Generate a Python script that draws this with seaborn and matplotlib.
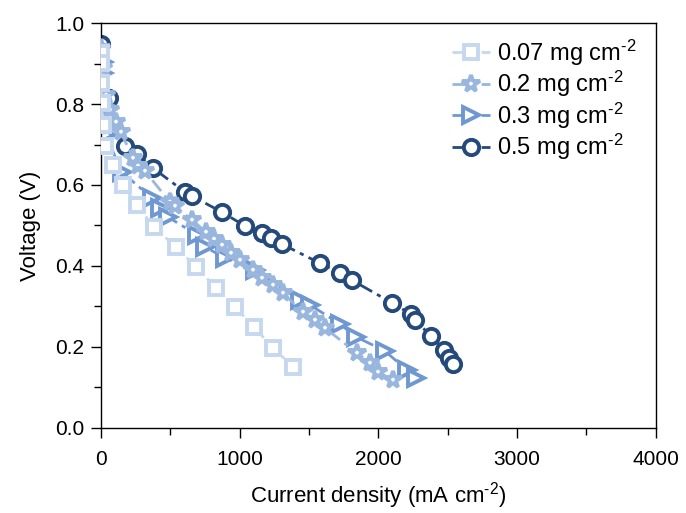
import matplotlib
matplotlib.use("Agg")
import matplotlib.pyplot as plt
import seaborn as sns
import numpy as np
import pandas as pd
from matplotlib.ticker import MultipleLocator

# ---- data (current density mA cm-2, voltage V) ----
j_007 = [0, 0, 0, 7, 14, 29, 86, 159, 259, 382, 541, 685, 829, 966, 1103, 1240, 1384]
v_007 = [0.926, 0.901, 0.852, 0.802, 0.748, 0.696, 0.649, 0.600, 0.551, 0.496, 0.447,
         0.398, 0.346, 0.299, 0.249, 0.198, 0.151]

j_02 = [0, 14, 36, 65, 108, 144, 231, 267, 317, 497, 533, 656, 757, 814, 872, 937,
        1002, 1095, 1160, 1240, 1312, 1456, 1542, 1614, 1845, 1939, 1996, 2104]
v_02 = [0.938, 0.889, 0.822, 0.785, 0.756, 0.731, 0.667, 0.647, 0.635, 0.558, 0.548,
        0.514, 0.484, 0.467, 0.452, 0.432, 0.415, 0.390, 0.370, 0.353, 0.333, 0.286,
        0.267, 0.247, 0.185, 0.160, 0.138, 0.119]

j_03 = [14, 14, 22, 36, 151, 368, 425, 483, 692, 750, 894, 1110, 1434, 1506, 1722,
        1838, 2047, 2205, 2270]
v_03 = [0.904, 0.877, 0.798, 0.723, 0.632, 0.568, 0.543, 0.521, 0.477, 0.447, 0.420,
        0.390, 0.316, 0.304, 0.257, 0.225, 0.190, 0.143, 0.123]

j_05 = [0, 58, 173, 259, 375, 605, 656, 872, 1038, 1160, 1225, 1305, 1578, 1722,
        1809, 2097, 2234, 2263, 2378, 2472, 2508, 2537]
v_05 = [0.948, 0.815, 0.696, 0.677, 0.642, 0.583, 0.573, 0.533, 0.499, 0.481, 0.469,
        0.454, 0.407, 0.383, 0.365, 0.309, 0.281, 0.267, 0.227, 0.193, 0.173, 0.158]

SUP = r"$^{\text{-}2}$"
labels = ["0.07 mg cm" + SUP, "0.2 mg cm" + SUP, "0.3 mg cm" + SUP, "0.5 mg cm" + SUP]
x_ticks = [0, 1000, 2000, 3000, 4000]
y_ticks = [0.0, 0.2, 0.4, 0.6, 0.8, 1.0]

# ---- style ----
sns.set_theme(style="white")
plt.rcParams["font.family"] = ["Liberation Sans", "DejaVu Sans"]
plt.rcParams["mathtext.fontset"] = "custom"
plt.rcParams["mathtext.rm"] = "Liberation Sans"
plt.rcParams["mathtext.it"] = "Liberation Sans"
plt.rcParams["mathtext.default"] = "regular"
plt.rcParams["text.color"] = "black"
plt.rcParams["axes.labelcolor"] = "black"
plt.rcParams["xtick.color"] = "black"
plt.rcParams["ytick.color"] = "black"

fig = plt.figure(figsize=(6.86, 5.13), dpi=100)
ax = fig.add_axes([0.147, 0.166, 0.809, 0.789])

series = [
    (j_007, v_007, labels[0], "#c6d8ef", "s", 10, 4),
    (j_02, v_02, labels[1], "#98b6de", "*", 13, 3),
    (j_03, v_03, labels[2], "#6f98d2", ">", 11, 2),
    (j_05, v_05, labels[3], "#24497b", "o", 11, 1),
]

for j, v, lab, col, mk, ms, z in series:
    df = pd.DataFrame({"j": j, "v": v})
    sns.lineplot(data=df, x="j", y="v", ax=ax, sort=False, estimator=None,
                 color=col, marker=mk, markersize=ms, markerfacecolor="white",
                 markeredgecolor=col, markeredgewidth=2.8, linewidth=2,
                 linestyle=(0, (5, 2, 1.5, 2)), label=lab, zorder=z)

ax.set_xlim(0, 4000)
ax.set_ylim(0, 1.0)
ax.set_xticks(x_ticks)
ax.set_yticks(y_ticks)
ax.set_xticklabels([str(t) for t in x_ticks])
ax.set_yticklabels([f"{t:.1f}" for t in y_ticks])
ax.xaxis.set_minor_locator(MultipleLocator(500))
ax.yaxis.set_minor_locator(MultipleLocator(0.1))
ax.tick_params(axis="both", which="major", direction="out", length=7, width=1,
               color="black", labelcolor="black", labelsize=15, pad=5,
               bottom=True, left=True, top=False, right=False)
ax.tick_params(axis="x", which="major", pad=9)
ax.tick_params(axis="both", which="minor", direction="out", length=5, width=1,
               color="black", bottom=True, left=True, top=False, right=False)
for s in ax.spines.values():
    s.set_visible(True)
    s.set_color("black")
    s.set_linewidth(1)

ax.set_xlabel("Current density (mA cm" + SUP + ")", fontsize=16, color="black", labelpad=8)
ax.set_ylabel("Voltage (V)", fontsize=16, color="black", labelpad=10)

leg = ax.legend(loc="upper right", frameon=False, fontsize=17, handlelength=1.6,
                handletextpad=0.3, labelspacing=0.05, borderaxespad=0.3,
                bbox_to_anchor=(0.995, 1.005))
for t in leg.get_texts():
    t.set_color("black")

fig.savefig("out.png", dpi=100)
